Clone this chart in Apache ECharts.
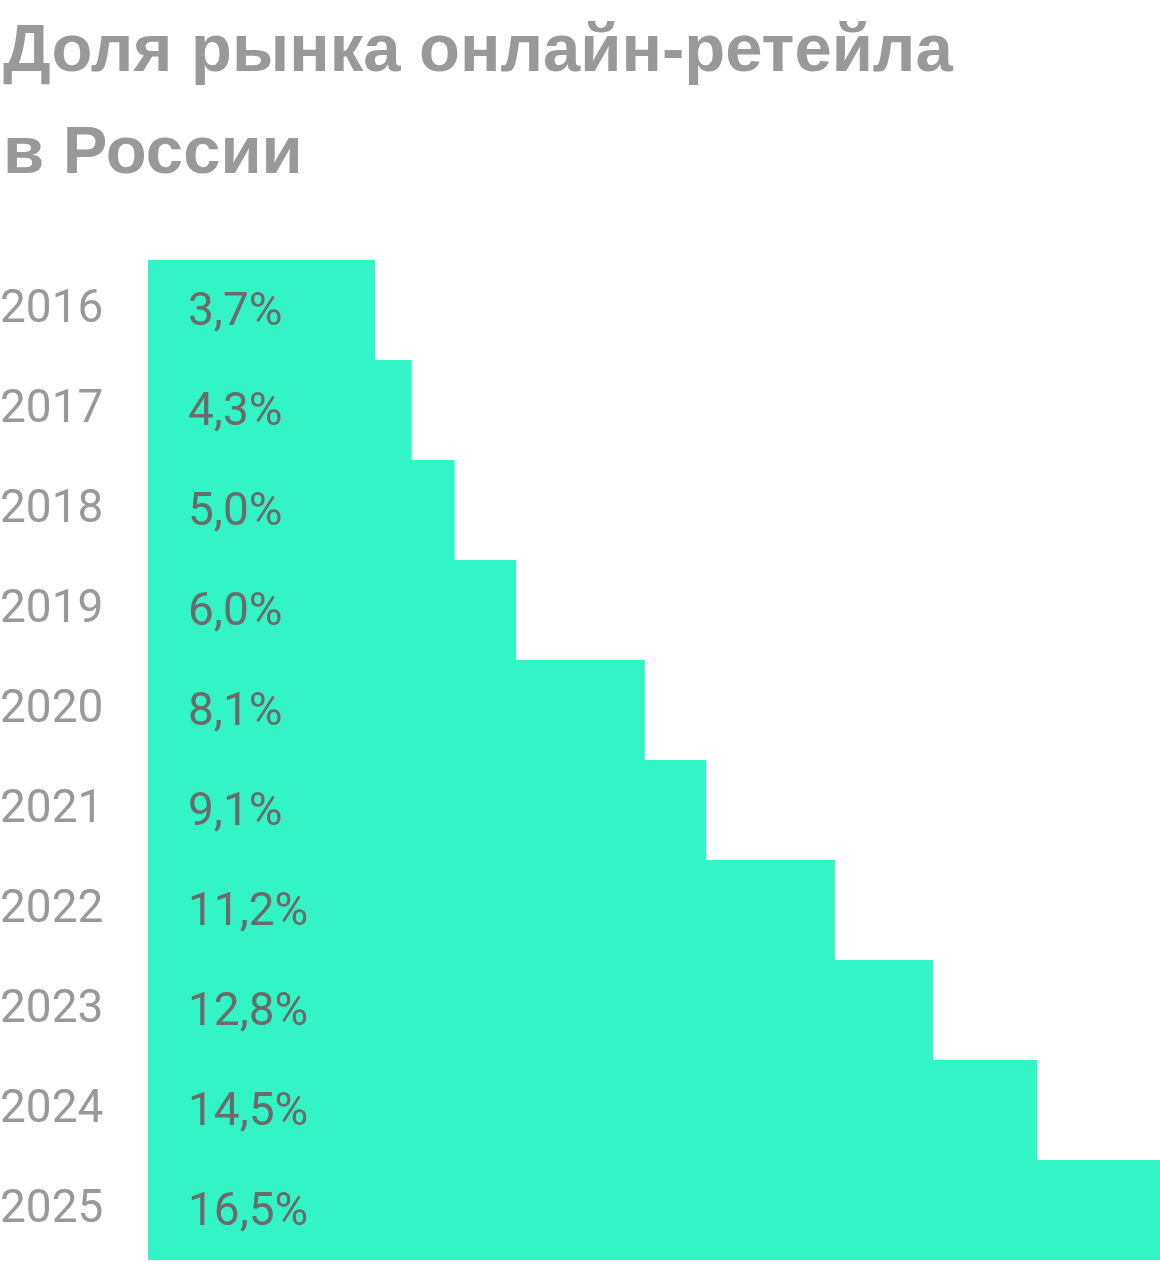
<!DOCTYPE html>
<html><head><meta charset="utf-8">
<style>html,body{margin:0;padding:0;background:#fff}#c{width:1160px;height:1264px}</style>
<script src="https://cdn.jsdelivr.net/npm/echarts@6/dist/echarts.min.js"></script>
</head><body><div id="c"></div>
<script>
const years = ['2016','2017','2018','2019','2020','2021','2022','2023','2024','2025'];
const shares = [3.7, 4.3, 5.0, 6.0, 8.1, 9.1, 11.2, 12.8, 14.5, 16.5];
const titleText = 'Доля рынка онлайн-ретейла\nв России';

const chart = echarts.init(document.getElementById('c'));
chart.setOption({
  animation: false,
  backgroundColor: '#fff',
  title: {
    text: titleText,
    left: -2, top: -3,
    textStyle: {fontFamily: 'Liberation Sans', fontWeight: 'bold', fontSize: 67, color: '#999999', lineHeight: 102}
  },
  grid: {left: 148, right: 0, top: 260, bottom: 4, containLabel: false, outerBoundsMode: 'none'},
  xAxis: {type: 'value', min: 0, max: 16.5, show: false},
  yAxis: {
    type: 'category', data: years, inverse: true,
    axisLine: {show: false}, axisTick: {show: false}, splitLine: {show: false},
    axisLabel: {align: 'left', margin: 148, color: '#999999', fontFamily: 'Roboto', fontSize: 46, padding: [6, 0, 0, 0]}
  },
  series: [{
    type: 'bar', data: shares, barCategoryGap: 0, barWidth: '100%',
    itemStyle: {color: '#33F4C4'},
    label: {
      show: true, position: 'insideLeft', distance: 40, offset: [0, 3],
      color: '#6b6b6b', fontFamily: 'Roboto', fontSize: 46,
      formatter: p => p.value.toFixed(1).replace('.', ',') + '%'
    }
  }]
});
</script></body></html>
